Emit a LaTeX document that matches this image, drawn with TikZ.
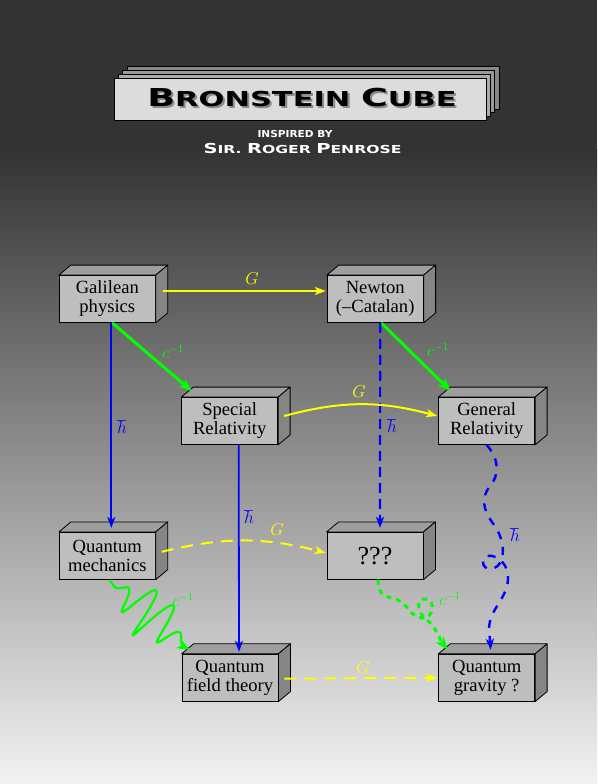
\documentclass[tikz,border=0pt]{standalone}
\usepackage{graphicx}
\usepackage{fontspec}
\setmainfont{Liberation Serif}
\newfontfamily\ttlfont{DejaVu Sans}
\usetikzlibrary{arrows.meta,calc}
\definecolor{bgtop}{HTML}{333333}
\definecolor{bgbot}{HTML}{F2F2F2}
\definecolor{boxfront}{HTML}{BEBEBE}
\definecolor{boxtop}{HTML}{9E9E9E}
\definecolor{boxside}{HTML}{858585}
\definecolor{plate}{HTML}{DCDCDC}
\definecolor{plateA}{HTML}{ABABAB}
\definecolor{plateB}{HTML}{999999}
\definecolor{plateC}{HTML}{878787}
\definecolor{yel}{HTML}{FFFF00}
\definecolor{grn}{HTML}{00FF00}
\definecolor{blu}{HTML}{0000FF}
\definecolor{shadowgray}{HTML}{8A8A8A}
\newcommand{\ttltext}{\fontsize{24.7}{25}\selectfont B\fontsize{20.6}{21}\selectfont RONSTEIN \fontsize{24.7}{25}\selectfont C\fontsize{20.6}{21}\selectfont UBE}
\tikzset{
  cube/.style={draw=black, line width=0.8pt, fill=boxfront, minimum width=96pt,
    minimum height=47pt, inner sep=0pt, align=center,
    font=\fontsize{18.6}{19}\selectfont},
  cubetop/.style={draw=black, line width=0.8pt, fill=boxtop, line join=round},
  cubeside/.style={draw=black, line width=0.8pt, fill=boxside, line join=round},
  tipthin/.style={-{Stealth[length=11pt,width=8pt,inset=3pt]}},
  tipthick/.style={-{Stealth[length=13pt,width=10pt,inset=3.5pt]}},
  yline/.style={yel, line width=2pt, tipthin},
  gline/.style={grn, line width=3pt, tipthick},
  bline/.style={blu, line width=1.8pt, tipthin},
  ydash/.style={yline, dash pattern=on 12pt off 8pt},
  bdash/.style={bline, line width=2.2pt, dash pattern=on 10pt off 6pt},
  bsnake/.style={bline, line width=2.4pt, dash pattern=on 8pt off 8pt},
  gdash/.style={gline, line width=3pt, dash pattern=on 5pt off 5pt},
  gsnake/.style={grn, line width=2.2pt, tipthick},
  lab/.style={inner sep=0pt, font=\fontsize{17}{17}\selectfont},
  clab/.style={inner sep=0pt, font=\fontsize{16}{16}\selectfont},
}
\begin{document}
\begin{tikzpicture}[x=1pt, y=-1pt]
\useasboundingbox (0,0) rectangle (597,784);
% background
\fill[bgtop] (0,0) rectangle (597,150);
\shade[top color=bgtop, bottom color=bgbot] (0,149.5) rectangle (597,784);

% title plate
\foreach \k/\c in {3/plateC,2/plateB,1/plateA}
  \filldraw[fill=\c, draw=black, line width=0.8pt] ($(114,78)+(4.3*\k,-3.7*\k)$) rectangle ++(372,42);
\node[draw=black, line width=0.8pt, fill=plate, minimum width=372pt, minimum height=42pt, inner sep=0pt] (plate) at (300,99) {};
\node[anchor=base, text=black, inner sep=0pt] (ttl) at (302,106.7)
  {\ttlfont\bfseries\scalebox{1.48}[1]{\makebox[0pt][l]{\hspace*{1.4pt}\raisebox{-1.8pt}{\color{shadowgray}\ttltext}}\ttltext}};
\node[anchor=base, text=white, inner sep=0pt] (insp) at (295,137.3)
  {\ttlfont\bfseries\scalebox{1.1}[1]{\fontsize{9.6}{10}\selectfont INSPIRED BY}};
\node[anchor=base, text=white, inner sep=0pt] (sir) at (302.5,153.3)
  {\ttlfont\bfseries\scalebox{1.42}[1]{\fontsize{13.7}{14}\selectfont S\fontsize{11}{11}\selectfont IR. \fontsize{13.7}{14}\selectfont R\fontsize{11}{11}\selectfont OGER \fontsize{13.7}{14}\selectfont P\fontsize{11}{11}\selectfont ENROSE}};

% boxes
\node[cube] (gal) at (107.3,299)   {Galilean\\physics};
\node[cube] (new) at (375.2,299)   {Newton\\(--Catalan)};
\node[cube] (sr)  at (229.7,421)   {Special\\Relativity};
\node[cube] (gr)  at (486.7,421)   {General\\Relativity};
\node[cube] (qm)  at (107.3,555.8) {Quantum\\mechanics};
\node[cube, font=\fontsize{26}{26}\selectfont] (qq) at (375,555.8) {???};
\node[cube] (qft) at (230,677.7)   {Quantum\\field theory};
\node[cube] (qg)  at (486.7,677.7) {Quantum\\gravity ?};
\foreach \n in {gal,new,sr,gr,qm,qq,qft,qg}{
  \filldraw[cubetop] (\n.north west) -- ++(12,-10) -- ($(\n.north east)+(12,-10)$) -- (\n.north east) -- cycle;
  \filldraw[cubeside] (\n.north east) -- ++(12,-10) -- ($(\n.south east)+(12,-10)$) -- (\n.south east) -- cycle;
}

% connectors
\draw[yline] ($(gal.east)+(7,-8)$) -- ($(new.west)+(-1,-8)$);
\draw[gline] ($(gal.south)+(5,0)$) -- ($(sr.north)+(-38,-6)$);
\draw[bline] ($(gal.south)+(4,0)$) -- ($(qm.north)+(4,-4)$);
\draw[gline] ($(new.south)+(6,0)$) -- ($(gr.north)+(-36,-6)$);
\draw[bdash] ($(new.south)+(5,0)$) -- ($(qq.north)+(5,-4)$);
\draw[yline] ($(sr.east)+(6,-5)$) to[bend left=15] ($(gr.west)+(-1,-5)$);
\draw[bline] ($(sr.south)+(9,0)$) -- ($(qft.north)+(9,-2)$);
\draw[bsnake] (gr.south) .. controls (500,460) and (499,476) .. (490,486)
  .. controls (481,497) and (483,510) .. (492,522)
  .. controls (500,532) and (505,546) .. (502,558)
  .. controls (499,572) and (482,572) .. (483,561)
  .. controls (484,550) and (508,556) .. (508,578)
  .. controls (508,598) and (490,608) .. (489,628)
  -- ($(qg.north)+(4,-4)$);
\draw[ydash] ($(qm.east)+(6,-4)$) to[bend left=14] ($(qq.west)+(-1,-3)$);
\coordinate (qmS) at ($(qm.south)+(2,1)$);
\coordinate (qftN) at ($(qft.north)+(-40,-4)$);
\begin{scope}[shift={(qmS)}, rotate=-40.8]
\draw[gsnake] plot[domain=0:100, samples=300, variable=\t, smooth]
  ({\t + 2*sin(1.6886*\t)*sin(1.6886*\t)*cos(15.197*\t)},
   {26*sin(1.6886*\t)*sin(1.6886*\t)*sin(15.197*\t)}) -- (qftN);
\end{scope}
\draw[gdash] ($(qq.south)+(3,0)$) .. controls (378,598) and (388,596) .. (398,600)
  .. controls (408,604) and (410,617) .. (422,618)
  .. controls (434,619) and (436,600) .. (426,599)
  .. controls (416,598) and (416,612) .. (427,620)
  .. controls (436,627) and (440,640) .. ($(qg.north)+(-39,-4)$);
\draw[ydash] ($(qft.east)+(6,1)$) -- ($(qg.west)+(-1,0)$);

% labels
\node[lab, text=yel] (l1) at (252,279) {$G$};
\node[clab, text=grn] (l2) at (173,352) {$c^{-1}$};
\node[lab, text=blu] (l3) at (122,427) {$\hbar$};
\node[clab, text=grn] (l4) at (438,350) {$c^{-1}$};
\node[lab, text=blu] (l5) at (392,426) {$\hbar$};
\node[lab, text=yel] (l6) at (359,392) {$G$};
\node[lab, text=blu] (l7) at (249,517) {$\hbar$};
\node[lab, text=yel] (l8) at (277,530) {$G$};
\node[lab, text=blu] (l9) at (515,535) {$\hbar$};
\node[clab, text=grn] (l10) at (183,600) {$c^{-1}$};
\node[clab, text=grn] (l11) at (450,599) {$c^{-1}$};
\node[lab, text=yel] (l12) at (363,668) {$G$};
\end{tikzpicture}
\end{document}
